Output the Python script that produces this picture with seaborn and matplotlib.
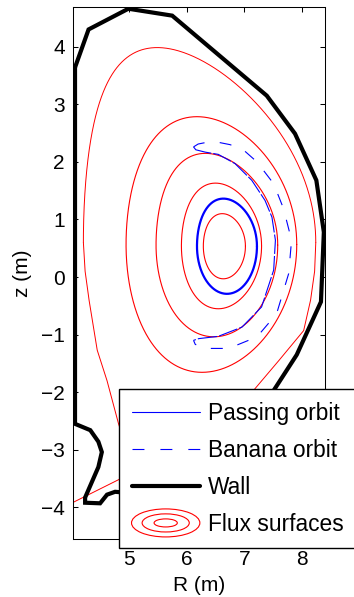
import numpy as np
import pandas as pd
import matplotlib
matplotlib.use("Agg")
import matplotlib.pyplot as plt
import seaborn as sns
from matplotlib.lines import Line2D
from matplotlib.patches import Ellipse
from matplotlib.legend_handler import HandlerBase

# ---------------- data ----------------
WALL_R = [4.065, 4.30, 4.99, 5.75, 7.39, 7.88, 8.25, 8.38, 8.33, 7.91, 7.51,
          7.20, 6.60, 6.20, 5.50, 5.00, 4.76, 4.62, 4.50, 4.24, 4.24, 4.47,
          4.53, 4.47, 4.33, 4.065, 4.065]
WALL_Z = [3.64, 4.30, 4.66, 4.54, 3.15, 2.49, 1.68, 0.78, -0.43, -1.35, -1.97,
          -2.50, -3.30, -4.45, -4.45, -3.75, -3.73, -3.78, -3.93, -3.92, -3.83, -3.30,
          -3.04, -2.86, -2.66, -2.55, 3.64]

# separatrix: upper part described by a shape (centre, minor radius, elongation, triangularity)
SEP_UP_R0, SEP_UP_Z0, SEP_UP_A, SEP_UP_KAPPA, SEP_UP_DELTA = 6.225, 0.60, 2.015, 1.68, 0.373
# separatrix lower legs (points), right side from outboard midplane down to the X-point
SEP_RIGHT_R = [8.24, 8.22, 8.15, 8.03, 7.60, 7.16, 6.40, 5.70, 5.15]
SEP_RIGHT_Z = [0.60, 0.10, -0.40, -0.93, -1.45, -1.97, -2.70, -3.15, -3.33]
# left side from inboard midplane down to the X-point and out along the divertor leg
SEP_LEFT_R = [4.21, 4.24, 4.31, 4.45, 4.62, 4.82, 4.95, 5.15, 4.82, 4.04, 3.90]
SEP_LEFT_Z = [0.60, 0.10, -0.41, -1.27, -1.80, -2.55, -2.95, -3.33, -3.52, -3.91, -3.98]

# closed flux surfaces: centre, minor radius, elongation, triangularity
SURF_R0 = [6.655, 6.605, 6.525, 6.43]
SURF_Z0 = [0.535, 0.540, 0.555, 0.565]
SURF_A = [0.365, 0.695, 1.055, 1.48]
SURF_KAPPA = [1.55, 1.57, 1.51, 1.50]
SURF_DELTA_UP = [0.10, 0.15, 0.19, 0.17]
SURF_DELTA_LO = [0.05, 0.08, 0.05, 0.11]

# passing orbit (same shape description)
PASS_R0, PASS_Z0, PASS_A, PASS_KAPPA, PASS_DUP, PASS_DLO = 6.70, 0.535, 0.52, 1.59, 0.12, 0.0

# banana orbit, inner leg (upper tip -> lower tip) and outer leg
BAN_IN_R = [6.12, 6.16, 6.32, 6.55, 6.84, 7.13, 7.36, 7.48, 7.54, 7.51, 7.30, 6.96, 6.55, 6.21, 6.12]
BAN_IN_Z = [2.26, 2.21, 2.17, 2.13, 1.97, 1.68, 1.33, 1.04, 0.64, 0.12, -0.52, -0.87, -1.03, -1.07, -1.10]
BAN_OUT_R = [6.12, 6.20, 6.35, 6.55, 6.75, 6.96, 7.22, 7.51, 7.68, 7.82, 7.77, 7.56, 7.22, 6.73, 6.32, 6.15, 6.12]
BAN_OUT_Z = [2.26, 2.31, 2.34, 2.34, 2.30, 2.23, 2.00, 1.62, 1.19, 0.64, 0.06, -0.64, -1.04, -1.24, -1.24, -1.17, -1.10]

XTICKS = [5, 6, 7, 8]
YTICKS = [-4, -3, -2, -1, 0, 1, 2, 3, 4]
XLIM = (4.03, 8.40)
YLIM = (-4.55, 4.69)
LEGEND_LABELS = ["Passing orbit", "Banana orbit", "Wall", "Flux surfaces"]


def miller(r0, z0, a, kappa, dup, dlo, t0=0.0, t1=2 * np.pi):
    th = np.linspace(t0, t1, 721)
    d = np.where(np.sin(th) >= 0, dup, dlo)
    return r0 + a * np.cos(th + d * np.sin(th)), z0 + kappa * a * np.sin(th)


# ---------------- style ----------------
sns.set_theme(style="ticks")
plt.rcParams["font.family"] = ["Liberation Sans", "DejaVu Sans"]
plt.rcParams["lines.scale_dashes"] = False
plt.rcParams["text.color"] = "black"
plt.rcParams["axes.labelcolor"] = "black"
plt.rcParams["xtick.color"] = "black"
plt.rcParams["ytick.color"] = "black"
plt.rcParams["axes.edgecolor"] = "black"

FS = 15
LFS = 16.4
fig = plt.figure(figsize=(3.54, 5.97), dpi=100)
ax = fig.add_axes([73 / 354, 58 / 597, 252 / 354, 532 / 597])

RED = (1, 0, 0)
BLUE = (0, 0, 1)

# flux surfaces
for i in range(len(SURF_R0)):
    r, z = miller(SURF_R0[i], SURF_Z0[i], SURF_A[i], SURF_KAPPA[i],
                  SURF_DELTA_UP[i], SURF_DELTA_LO[i])
    sns.lineplot(x=r, y=z, sort=False, estimator=None, color=RED, lw=0.8, ax=ax)

# separatrix
r, z = miller(SEP_UP_R0, SEP_UP_Z0, SEP_UP_A, SEP_UP_KAPPA, SEP_UP_DELTA, SEP_UP_DELTA,
              0.0, np.pi)
sns.lineplot(x=r, y=z, sort=False, estimator=None, color=RED, lw=0.7, ax=ax)
sns.lineplot(x=SEP_RIGHT_R, y=SEP_RIGHT_Z, sort=False, estimator=None, color=RED, lw=0.7, ax=ax)
sns.lineplot(x=SEP_LEFT_R, y=SEP_LEFT_Z, sort=False, estimator=None, color=RED, lw=0.7, ax=ax)

# passing orbit
r, z = miller(PASS_R0, PASS_Z0, PASS_A, PASS_KAPPA, PASS_DUP, PASS_DLO)
sns.lineplot(x=r, y=z, sort=False, estimator=None, color=BLUE, lw=1.6, ax=ax)

# banana orbit
sns.lineplot(x=BAN_IN_R, y=BAN_IN_Z, sort=False, estimator=None, color=BLUE, lw=0.8,
             linestyle=(0, (14, 1.5)), ax=ax)
sns.lineplot(x=BAN_OUT_R, y=BAN_OUT_Z, sort=False, estimator=None, color=BLUE, lw=0.8,
             linestyle=(0, (8.6, 11)), ax=ax)

# wall
sns.lineplot(x=WALL_R, y=WALL_Z, sort=False, estimator=None, color="black", lw=3.0,
             ax=ax, solid_joinstyle="miter")

ax.set_xlim(*XLIM)
ax.set_ylim(*YLIM)
ax.set_xticks(XTICKS)
ax.set_yticks(YTICKS)
ax.tick_params(direction="in", length=3.6, width=0.75, top=True, right=True,
               labelsize=FS, pad=6)
ax.tick_params(axis="x", pad=8)
for s in ax.spines.values():
    s.set_linewidth(0.75)
    s.set_visible(True)
ax.set_xlabel("R (m)", fontsize=FS, labelpad=5)
ax.set_ylabel("z (m)", fontsize=FS, labelpad=6)


class FluxHandler(HandlerBase):
    def create_artists(self, legend, orig_handle, xdescent, ydescent, width, height,
                       fontsize, trans):
        cx = width / 2 - xdescent
        cy = height / 2 - ydescent
        arts = []
        for fw, fh in [(1.0, 0.41), (0.69, 0.265), (0.34, 0.118)]:
            e = Ellipse((cx, cy), width * fw, width * fh, fill=False,
                        edgecolor=RED, lw=0.8, transform=trans)
            arts.append(e)
        return arts


class FluxKey:
    pass


handles = [
    Line2D([], [], color=BLUE, lw=0.8),
    Line2D([], [], color=BLUE, lw=0.8, linestyle=(0, (8.6, 11.5))),
    Line2D([], [], color="black", lw=3.0),
    FluxKey(),
]
leg = ax.legend(handles, LEGEND_LABELS, handler_map={FluxKey: FluxHandler()},
                loc="upper left", bbox_to_anchor=(119 / 354, 1 - 389 / 597),
                bbox_transform=fig.transFigure, borderaxespad=0, fontsize=LFS,
                frameon=True, fancybox=False, framealpha=1, edgecolor="black",
                handlelength=3.0, handletextpad=0.35, borderpad=0.55,
                labelspacing=0.62)
leg.get_frame().set_linewidth(1.0)
leg.set_zorder(10)

fig.savefig("out.png", dpi=100)
